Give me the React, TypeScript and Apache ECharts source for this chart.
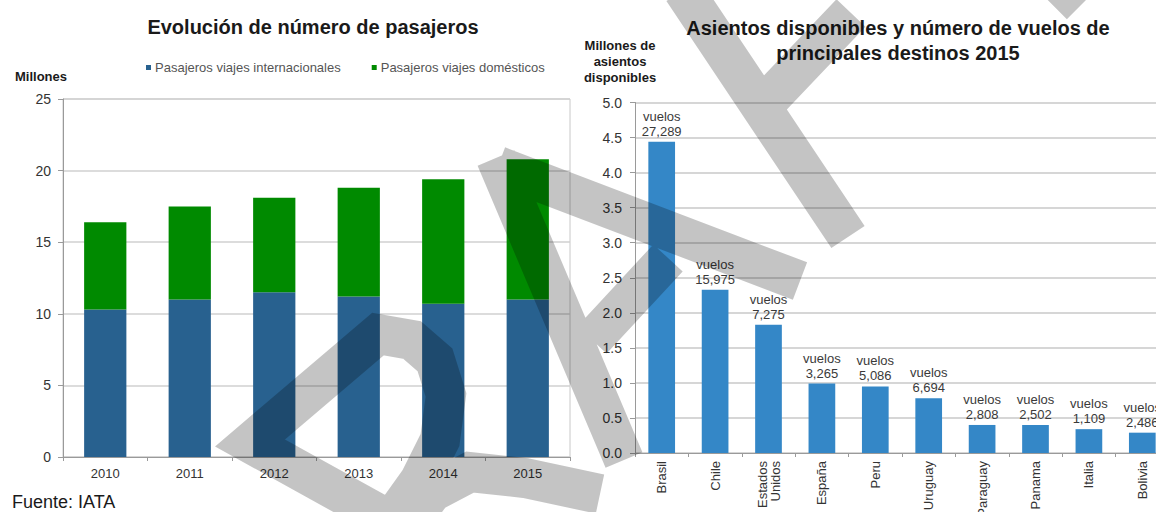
import React, { useEffect, useRef } from "react";
import * as echarts from "echarts";

// ---------- data ----------
const years = ["2010", "2011", "2012", "2013", "2014", "2015"];
const internacionales = [10.3, 11.0, 11.5, 11.2, 10.7, 11.0];
const domesticos = [6.1, 6.5, 6.6, 7.6, 8.7, 9.8];

const destinos = [
  "Brasil",
  "Chile",
  "Estados\nUnidos",
  "España",
  "Peru",
  "Uruguay",
  "Paraguay",
  "Panama",
  "Italia",
  "Bolivia",
];
const asientos = [4.44, 2.33, 1.83, 0.99, 0.95, 0.78, 0.4, 0.4, 0.34, 0.29];
const vuelos = [27289, 15975, 7275, 3265, 5086, 6694, 2808, 2502, 1109, 2486];

// ---------- decorative watermark strokes (page pixels) ----------
const WM_STROKES: number[][][] = [
  [[400, 526], [250, 443], [378, 334], [412, 340], [435, 360], [446, 395], [440, 440], [420, 480], [395, 515], [385, 530]],
  [[400, 535], [432, 492], [470, 472], [525, 478], [600, 494]],
  [[496, 158], [624, 460]],
  [[498, 166], [800, 281]],
  [[592, 340], [668, 258]],
  [[683, -10], [848, 237]],
  [[851, 13], [755, 114]],
  [[1045, -31], [1081, 5]],
];
const wmPath = WM_STROKES.map(
  (s) => "M" + s.map((p) => p[0] + " " + p[1]).join(" L")
).join(" ");
echarts.graphic.registerShape("watermark", echarts.graphic.extendPath(wmPath, {}));

const FONT = "'Liberation Sans', Arial, sans-serif";
const fmt = (n: number) => n.toLocaleString("en-US");

export default function App() {
  const ref = useRef<HTMLDivElement>(null);

  useEffect(() => {
    if (!ref.current) return;
    const chart = echarts.init(ref.current, null, { renderer: "svg" });
    const axisGrey = "#9a9a9a";
    const option: any = {
      animation: false,
      backgroundColor: "#ffffff",
      textStyle: { fontFamily: FONT },
      title: [
        {
          text: "Evolución de número de pasajeros",
          left: 308,
          top: 12,
          textAlign: "center",
          textStyle: { fontFamily: FONT, fontSize: 20, fontWeight: "bold", color: "#1a1a1a" },
        },
        {
          text: "Asientos disponibles y número de vuelos de\nprincipales destinos 2015",
          left: 893,
          top: 10,
          textAlign: "center",
          textStyle: {
            fontFamily: FONT,
            fontSize: 20,
            fontWeight: "bold",
            color: "#1a1a1a",
            lineHeight: 25,
          },
        },
      ],
      legend: {
        data: ["Pasajeros viajes internacionales", "Pasajeros viajes domésticos"],
        left: 141,
        top: 56,
        icon: "rect",
        itemWidth: 5,
        itemHeight: 5,
        itemGap: 31,
        selectedMode: false,
        textStyle: { fontFamily: FONT, fontSize: 13, color: "#555", padding: [0, 0, 0, -1] },
      },
      grid: [
        {
          left: 63,
          width: 507,
          top: 99,
          height: 358,
          show: true,
          borderColor: "#c8c8c8",
          borderWidth: 1,
          outerBoundsMode: "none",
        },
        { left: 635, width: 534, top: 102.5, height: 350.5, outerBoundsMode: "none" },
      ],
      xAxis: [
        {
          gridIndex: 0,
          type: "category",
          data: years,
          axisLine: { lineStyle: { color: axisGrey } },
          axisTick: { show: true, length: 4, lineStyle: { color: axisGrey } },
          axisLabel: { fontFamily: FONT, fontSize: 13, color: "#333", margin: 10 },
        },
        {
          gridIndex: 1,
          type: "category",
          data: destinos,
          axisLine: { lineStyle: { color: axisGrey } },
          axisTick: { show: true, length: 4, lineStyle: { color: axisGrey } },
          axisLabel: {
            fontFamily: FONT,
            fontSize: 13,
            color: "#333",
            rotate: 90,
            interval: 0,
            margin: 8,
            lineHeight: 13,
          },
        },
      ],
      yAxis: [
        {
          gridIndex: 0,
          type: "value",
          min: 0,
          max: 25,
          interval: 5,
          axisLine: { show: true, lineStyle: { color: axisGrey } },
          axisTick: { show: true, length: 5, lineStyle: { color: axisGrey } },
          splitLine: { lineStyle: { color: "#d0d0d0", width: 1.5 } },
          axisLabel: { fontFamily: FONT, fontSize: 14, color: "#333", margin: 12 },
        },
        {
          gridIndex: 1,
          type: "value",
          min: 0,
          max: 5,
          interval: 0.5,
          axisLine: { show: true, lineStyle: { color: axisGrey } },
          axisTick: { show: true, length: 5, lineStyle: { color: axisGrey } },
          splitLine: { lineStyle: { color: "#c8c8c8", width: 1.5 } },
          axisLabel: {
            fontFamily: FONT,
            fontSize: 14,
            color: "#333",
            margin: 13,
            formatter: (v: number) => v.toFixed(1),
          },
        },
      ],
      series: [
        {
          name: "Pasajeros viajes internacionales",
          type: "bar",
          stack: "pasajeros",
          xAxisIndex: 0,
          yAxisIndex: 0,
          barWidth: "50%",
          data: internacionales,
          itemStyle: { color: "#28618f" },
        },
        {
          name: "Pasajeros viajes domésticos",
          type: "bar",
          stack: "pasajeros",
          xAxisIndex: 0,
          yAxisIndex: 0,
          barWidth: "50%",
          data: domesticos,
          itemStyle: { color: "#008a00" },
        },
        {
          name: "Asientos disponibles",
          type: "bar",
          xAxisIndex: 1,
          yAxisIndex: 1,
          barWidth: "50%",
          data: asientos,
          itemStyle: { color: "#3487c7" },
          label: {
            show: true,
            position: "top",
            distance: 3,
            fontFamily: FONT,
            fontSize: 13,
            lineHeight: 15,
            color: "#3a3a3a",
            formatter: (p: any) => "vuelos\n" + fmt(vuelos[p.dataIndex]),
          },
        },
      ],
      graphic: [
        {
          type: "text",
          x: 15,
          y: 76,
          style: {
            text: "Millones",
            fontFamily: FONT,
            fontSize: 13,
            fontWeight: "bold",
            fill: "#1a1a1a",
            verticalAlign: "middle",
            textVerticalAlign: "middle",
          },
        },
        {
          type: "text",
          x: 620,
          y: 37,
          style: {
            text: "Millones de\nasientos\ndisponibles",
            fontFamily: FONT,
            fontSize: 13,
            fontWeight: "bold",
            lineHeight: 16,
            fill: "#1a1a1a",
            align: "center",
            textAlign: "center",
          },
        },
        {
          type: "text",
          x: 12,
          y: 493,
          style: {
            text: "Fuente: IATA",
            fontFamily: FONT,
            fontSize: 18,
            fill: "#1a1a1a",
          },
        },
        {
          type: "watermark",
          x: 0,
          y: 0,
          silent: true,
          z: 100,
          style: {
            fill: "none",
            stroke: "rgba(0,0,0,0.23)",
            lineWidth: 40,
            lineJoin: "miter",
            lineCap: "butt",
          },
        },
      ],
    };
    chart.setOption(option);
    return () => chart.dispose();
  }, []);

  return (
    <div
      ref={ref}
      style={{ position: "fixed", left: 0, top: 0, width: 1156, height: 512, overflow: "hidden" }}
    />
  );
}
